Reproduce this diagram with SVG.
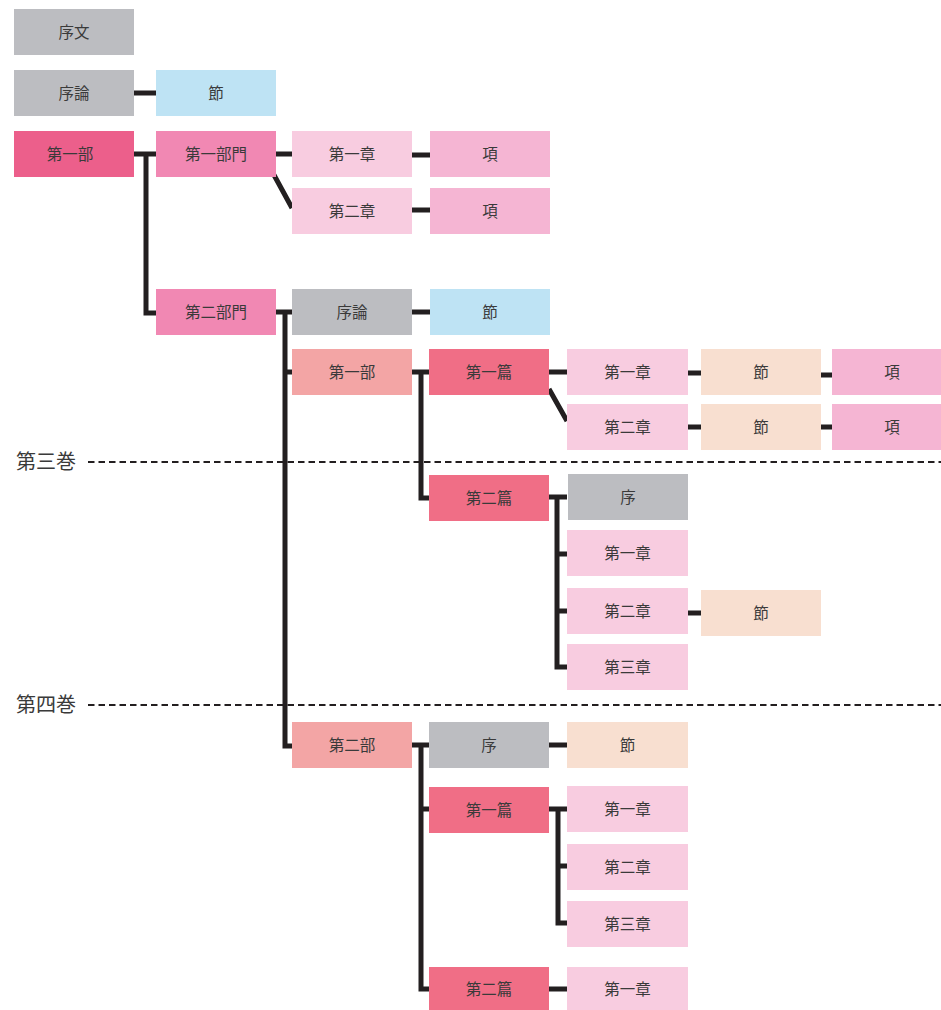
<svg xmlns="http://www.w3.org/2000/svg" width="941" height="1010" viewBox="0 0 941 1010">
<style>
.t{font-family:"Noto Sans CJK JP","Noto Sans CJK SC",sans-serif;font-size:15.5px;fill:#3a3a3a;text-anchor:middle;dominant-baseline:central}
.v{font-family:"Noto Sans CJK JP","Noto Sans CJK SC",sans-serif;font-size:20px;fill:#3a3a3a;dominant-baseline:central}
.c{fill:none;stroke:#231f20;stroke-width:5}
.d{fill:none;stroke:#231f20;stroke-width:2;stroke-dasharray:6.5 4}
.gray{fill:#bcbdc1}.blue{fill:#bee3f4}.deep{fill:#ec5f8b}.mid{fill:#f188b3}.light{fill:#f8cce0}
.kou{fill:#f5b5d3}.salmon{fill:#f3a5a5}.hen{fill:#f06e86}.peach{fill:#f8dfd0}
</style>
<g id="dividers">
<line class="d" x1="88" y1="462" x2="941" y2="462"/>
<text class="v" x="16" y="460.5">第三巻</text>
<line class="d" x1="88" y1="705" x2="941" y2="705"/>
<text class="v" x="16" y="703.5">第四巻</text>
</g>
<g id="connectors">
<path class="c" d="M134,93H156"/>
<path class="c" d="M134,154H156M146,154V313H156"/>
<path class="c" d="M276,154H292M274,175L292,208"/>
<path class="c" d="M412,155H430M412,210H430"/>
<path class="c" d="M276,312H292M285,312V746H292M285,372H292"/>
<path class="c" d="M412,312H430"/>
<path class="c" d="M412,372H429M421,372V498H429"/>
<path class="c" d="M549,372H567M549,389L567,421"/>
<path class="c" d="M688,373H701M821,375H832M688,427H701M821,427H832"/>
<path class="c" d="M549,497H567M557,497V667H567M557,554H567M557,611H567"/>
<path class="c" d="M688,613H701"/>
<path class="c" d="M412,745H430M421,745V989H429M421,809H429"/>
<path class="c" d="M549,745H567"/>
<path class="c" d="M549,809H567M558,809V923H567M558,866H567"/>
<path class="c" d="M549,989H567"/>
</g>
<g id="n1"><rect class="gray" x="14" y="9" width="120" height="46"/><text class="t" x="74" y="30.5">序文</text></g>
<g id="n2"><rect class="gray" x="14" y="70" width="120" height="46"/><text class="t" x="74" y="91.5">序論</text></g>
<g id="n3"><rect class="blue" x="156" y="70" width="120" height="46"/><text class="t" x="216" y="91.5">節</text></g>
<g id="n4"><rect class="deep" x="14" y="131" width="120" height="46"/><text class="t" x="70" y="152.5">第一部</text></g>
<g id="n5"><rect class="mid" x="156" y="131" width="120" height="46"/><text class="t" x="216" y="152.5">第一部門</text></g>
<g id="n6"><rect class="light" x="292" y="131" width="120" height="46"/><text class="t" x="352" y="152.5">第一章</text></g>
<g id="n7"><rect class="kou" x="430" y="131" width="120" height="46"/><text class="t" x="490" y="152.5">項</text></g>
<g id="n8"><rect class="light" x="292" y="188" width="120" height="46"/><text class="t" x="352" y="209.5">第二章</text></g>
<g id="n9"><rect class="kou" x="430" y="188" width="120" height="46"/><text class="t" x="490" y="209.5">項</text></g>
<g id="n10"><rect class="mid" x="156" y="289" width="120" height="46"/><text class="t" x="216" y="310.5">第二部門</text></g>
<g id="n11"><rect class="gray" x="292" y="289" width="120" height="46"/><text class="t" x="352" y="310.5">序論</text></g>
<g id="n12"><rect class="blue" x="430" y="289" width="120" height="46"/><text class="t" x="490" y="310.5">節</text></g>
<g id="n13"><rect class="salmon" x="292" y="349" width="120" height="46"/><text class="t" x="352" y="370.5">第一部</text></g>
<g id="n14"><rect class="hen" x="429" y="349" width="120" height="46"/><text class="t" x="489" y="370.5">第一篇</text></g>
<g id="n15"><rect class="light" x="567" y="349" width="121" height="46"/><text class="t" x="627.5" y="370.5">第一章</text></g>
<g id="n16"><rect class="peach" x="701" y="349" width="120" height="46"/><text class="t" x="761" y="370.5">節</text></g>
<g id="n17"><rect class="kou" x="832" y="349" width="109" height="46"/><text class="t" x="892" y="370.5">項</text></g>
<g id="n18"><rect class="light" x="567" y="404" width="121" height="46"/><text class="t" x="627.5" y="425.5">第二章</text></g>
<g id="n19"><rect class="peach" x="701" y="404" width="120" height="46"/><text class="t" x="761" y="425.5">節</text></g>
<g id="n20"><rect class="kou" x="832" y="404" width="109" height="46"/><text class="t" x="892" y="425.5">項</text></g>
<g id="n21"><rect class="hen" x="429" y="475" width="120" height="46"/><text class="t" x="489" y="496.5">第二篇</text></g>
<g id="n22"><rect class="gray" x="568" y="474" width="120" height="46"/><text class="t" x="628" y="495.5">序</text></g>
<g id="n23"><rect class="light" x="567" y="530" width="121" height="46"/><text class="t" x="627.5" y="551.5">第一章</text></g>
<g id="n24"><rect class="light" x="567" y="588" width="121" height="46"/><text class="t" x="627.5" y="609.5">第二章</text></g>
<g id="n25"><rect class="peach" x="701" y="590" width="120" height="46"/><text class="t" x="761" y="611.5">節</text></g>
<g id="n26"><rect class="light" x="567" y="644" width="121" height="46"/><text class="t" x="627.5" y="665.5">第三章</text></g>
<g id="n27"><rect class="salmon" x="292" y="722" width="120" height="46"/><text class="t" x="352" y="743.5">第二部</text></g>
<g id="n28"><rect class="gray" x="429" y="722" width="120" height="46"/><text class="t" x="489" y="743.5">序</text></g>
<g id="n29"><rect class="peach" x="567" y="722" width="121" height="46"/><text class="t" x="627.5" y="743.5">節</text></g>
<g id="n30"><rect class="hen" x="429" y="787" width="120" height="46"/><text class="t" x="489" y="808.5">第一篇</text></g>
<g id="n31"><rect class="light" x="567" y="786" width="121" height="46"/><text class="t" x="627.5" y="807.5">第一章</text></g>
<g id="n32"><rect class="light" x="567" y="844" width="121" height="46"/><text class="t" x="627.5" y="865.5">第二章</text></g>
<g id="n33"><rect class="light" x="567" y="901" width="121" height="46"/><text class="t" x="627.5" y="922.5">第三章</text></g>
<g id="n34"><rect class="hen" x="429" y="967" width="120" height="43"/><text class="t" x="489" y="987.5">第二篇</text></g>
<g id="n35"><rect class="light" x="567" y="967" width="121" height="43"/><text class="t" x="627.5" y="987.5">第一章</text></g>
</svg>
